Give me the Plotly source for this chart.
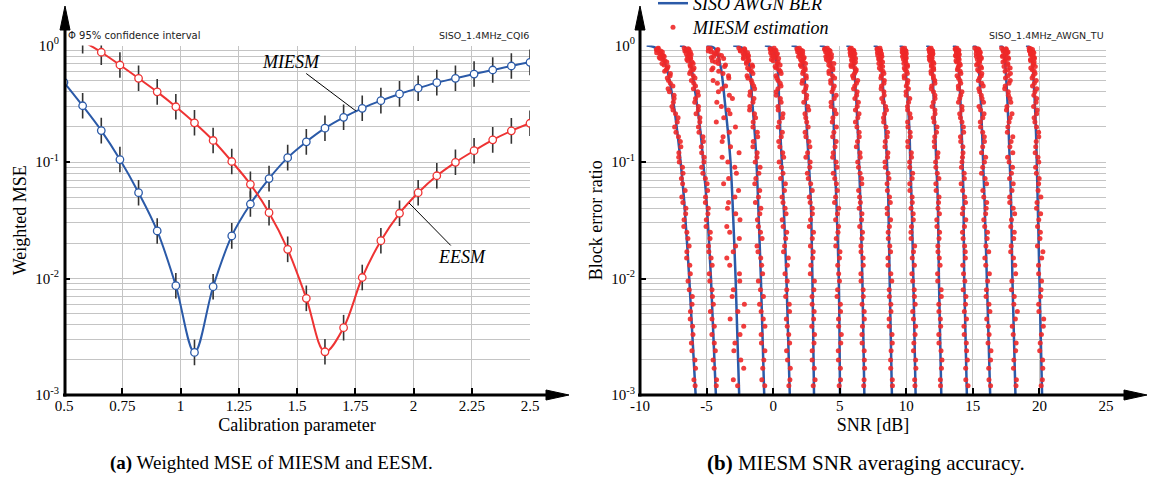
import plotly.graph_objects as go

W, H = 1149, 482

# ---------------- left panel data ----------------
calib = [0.5, 0.58, 0.66, 0.74, 0.82, 0.90, 0.98, 1.06, 1.14, 1.22, 1.30, 1.38, 1.46,
         1.54, 1.62, 1.70, 1.78, 1.86, 1.94, 2.02, 2.10, 2.18, 2.26, 2.34, 2.42, 2.50]
miesm_mse = [0.483, 0.304, 0.186, 0.105, 0.0545, 0.0256, 0.00867, 0.00232, 0.0085, 0.0232,
             0.0436, 0.072, 0.109, 0.149, 0.195, 0.242, 0.289, 0.336, 0.384, 0.43,
             0.48, 0.523, 0.569, 0.616, 0.667, 0.717]
eesm_mse = [1.45, 1.1, 0.875, 0.68, 0.523, 0.40, 0.298, 0.217, 0.153, 0.101,
            0.0643, 0.0367, 0.0178, 0.00676, 0.00235, 0.00378, 0.0102, 0.0211, 0.0363, 0.0545,
            0.0762, 0.0994, 0.125, 0.155, 0.185, 0.215]
ci_decades = 0.11  # half width of the 95% confidence interval (log10 units)

calib_ticks = [0.5, 0.75, 1, 1.25, 1.5, 1.75, 2, 2.25, 2.5]
calib_ticktext = ["0.5", "0.75", "1", "1.25", "1.5", "1.75", "2", "2.25", "2.5"]

# ---------------- right panel data ----------------
snr_ticks = [-10, -5, 0, 5, 10, 15, 20, 25]
snr_ticktext = ["-10", "-5", "0", "5", "10", "15", "20", "25"]

curve_bler = [1.0, 0.98, 0.92, 0.64, 0.33, 0.17, 0.1, 0.046, 0.01, 0.001]
awgn_snr = [
    [-9.5, -9.05, -8.6, -8.0, -7.5, -7.17, -6.95, -6.68, -6.3, -5.82],
    [-7.0, -6.7, -6.45, -6.13, -5.75, -5.43, -5.25, -5.0, -4.67, -4.3],
    [-5.0, -4.6, -4.3, -3.92, -3.63, -3.37, -3.2, -3.05, -2.82, -2.55],
    [-3.0, -2.55, -2.2, -1.75, -1.57, -1.37, -1.25, -1.13, -0.92, -0.67],
    [-0.62, -0.25, 0.0, 0.33, 0.45, 0.55, 0.65, 0.78, 1.0, 1.25],
    [1.38, 1.75, 2.0, 2.3, 2.45, 2.55, 2.68, 2.83, 2.95, 3.07],
    [3.5, 3.85, 4.1, 4.38, 4.5, 4.57, 4.63, 4.75, 4.93, 5.02],
    [5.5, 5.75, 5.9, 6.08, 6.25, 6.37, 6.45, 6.55, 6.7, 6.85],
    [7.55, 7.8, 7.95, 8.13, 8.33, 8.45, 8.55, 8.65, 8.75, 8.92],
    [9.5, 9.7, 9.82, 9.95, 10.12, 10.25, 10.3, 10.4, 10.53, 10.7],
    [11.5, 11.7, 11.82, 11.95, 12.07, 12.18, 12.25, 12.37, 12.45, 12.63],
    [13.5, 13.7, 13.8, 13.93, 14.07, 14.17, 14.23, 14.3, 14.35, 14.55],
    [15.0, 15.2, 15.32, 15.45, 15.6, 15.7, 15.77, 15.88, 16.05, 16.3],
    [17.0, 17.2, 17.32, 17.45, 17.6, 17.7, 17.77, 17.87, 17.97, 18.2],
    [19.0, 19.2, 19.35, 19.5, 19.65, 19.75, 19.8, 19.87, 20.0, 20.2],
]

bler_grid_a = [0.94, 0.91, 0.88, 0.85, 0.82, 0.79, 0.76, 0.72, 0.68, 0.64, 0.6, 0.55, 0.5,
               0.45, 0.4, 0.35, 0.3, 0.26, 0.22, 0.18, 0.15, 0.12, 0.1, 0.08, 0.065, 0.05,
               0.04, 0.032, 0.025, 0.019, 0.015, 0.011, 0.008, 0.006, 0.0045, 0.0033,
               0.0024, 0.0017, 0.0012]
bler_grid_b = [0.95, 0.925, 0.895, 0.865, 0.835, 0.805, 0.775, 0.74, 0.7, 0.66, 0.62, 0.575,
               0.525, 0.475, 0.425, 0.375, 0.325, 0.28, 0.24, 0.2, 0.165, 0.135, 0.11, 0.09,
               0.072, 0.057, 0.045, 0.036, 0.028, 0.022, 0.017, 0.013, 0.0095, 0.007,
               0.0052, 0.0039, 0.0028, 0.002, 0.00135]

# MIESM estimates, set 1 (odd curves on grid A, even curves on grid B)
est_snr_1 = [
    [-8.65, -8.73, -8.32, -8.52, -8.26, -8.55, -8.28, -7.99, -8.20, -7.95, -8.15, -7.74, -7.86,
     -7.53, -7.79, -7.44, -7.60, -7.33, -7.20, -7.30, -6.97, -7.08, -7.05, -6.77, -6.80, -6.86,
     -6.55, -6.69, -6.48, -6.31, -6.50, -6.22, -6.30, -6.09, -6.23, -6.02, -6.10, -5.83, -5.86],
    [-6.68, -6.32, -6.63, -6.35, -6.16, -6.43, -6.20, -6.41, -6.01, -6.21, -6.01, -6.27, -5.87,
     -5.96, -5.99, -5.62, -5.89, -5.62, -5.50, -5.61, -5.27, -5.40, -5.18, -5.37, -5.09, -4.92,
     -5.09, -4.90, -5.04, -4.74, -4.83, -4.58, -4.76, -4.56, -4.71, -4.42, -4.42, -4.51, -4.25],
    [-4.70, -4.19, -4.65, -4.32, -3.88, -4.64, -4.10, -4.34, -3.58, -4.52, -4.09, -3.35, -4.51,
     -3.57, -4.11, -3.06, -3.89, -3.24, -4.27, -3.29, -3.83, -2.56, -3.40, -2.76, -3.72, -2.87,
     -3.43, -2.49, -3.26, -2.82, -3.48, -2.53, -2.99, -2.16, -3.23, -2.49, -2.95, -2.21, -2.67],
    [-2.58, -2.13, -2.47, -1.92, -2.18, -1.88, -2.24, -1.83, -2.01, -1.54, -1.79, -1.52, -1.90,
     -1.57, -1.39, -1.75, -1.52, -1.77, -1.32, -1.52, -1.16, -1.52, -1.22, -0.98, -1.30, -1.01,
     -1.33, -1.00, -1.11, -0.83, -1.14, -0.86, -1.11, -0.73, -0.90, -0.62, -0.88, -0.70, -0.85],
    [-0.23, 0.21, -0.06, 0.32, -0.10, 0.19, -0.13, 0.37, 0.52, 0.23, 0.54, 0.21, 0.37,
     0.59, 0.22, 0.54, 0.36, 0.74, 0.46, 0.69, 0.42, 0.72, 0.45, 0.74, 0.92, 0.67,
     0.90, 0.68, 1.02, 0.86, 1.14, 0.89, 1.02, 1.21, 0.99, 1.17, 1.01, 1.29, 1.18],
    [1.97, 1.83, 2.22, 1.95, 2.13, 1.91, 2.29, 2.13, 2.43, 2.12, 2.41, 2.22, 2.49,
     2.17, 2.44, 2.52, 2.30, 2.67, 2.45, 2.63, 2.46, 2.76, 2.46, 2.75, 2.64, 2.94,
     2.78, 2.95, 2.72, 2.94, 3.01, 2.83, 3.10, 2.92, 3.08, 2.90, 3.07, 2.93, 3.15],
    [3.87, 4.21, 3.94, 4.21, 4.09, 4.37, 4.00, 4.29, 4.18, 4.48, 4.19, 4.46, 4.32,
     4.59, 4.42, 4.59, 4.36, 4.73, 4.44, 4.56, 4.73, 4.51, 4.73, 4.51, 4.75, 4.69,
     4.92, 4.69, 4.87, 4.70, 4.98, 4.92, 4.84, 5.05, 4.91, 5.12, 4.89, 5.05, 4.96],
    [5.87, 5.79, 6.06, 5.78, 6.05, 5.92, 6.19, 5.91, 6.09, 5.86, 6.24, 6.11, 6.03,
     6.26, 6.04, 6.27, 6.40, 6.18, 6.36, 6.29, 6.47, 6.25, 6.54, 6.41, 6.64, 6.42,
     6.55, 6.67, 6.50, 6.67, 6.60, 6.77, 6.60, 6.77, 6.84, 6.71, 6.68, 6.85, 6.83],
    [7.80, 8.06, 7.92, 8.14, 7.86, 8.08, 7.94, 8.22, 8.10, 7.98, 8.25, 8.13, 8.35,
     8.14, 8.32, 8.16, 8.45, 8.37, 8.30, 8.59, 8.42, 8.62, 8.40, 8.63, 8.56, 8.74,
     8.56, 8.82, 8.64, 8.76, 8.62, 8.84, 8.72, 8.84, 8.71, 8.93, 8.86, 8.83, 8.96],
    [9.86, 9.76, 9.98, 9.74, 9.91, 9.72, 9.98, 9.90, 9.82, 10.09, 9.91, 10.08, 9.85,
     10.08, 10.16, 9.99, 10.17, 10.10, 10.33, 10.12, 10.30, 10.12, 10.39, 10.26, 10.44, 10.27,
     10.45, 10.52, 10.39, 10.36, 10.54, 10.61, 10.48, 10.61, 10.48, 10.70, 10.57, 10.70, 10.63],
    [11.73, 11.92, 11.74, 12.00, 11.81, 11.92, 11.74, 12.01, 11.88, 12.05, 11.86, 12.03, 12.14,
     11.91, 12.04, 12.16, 11.94, 12.16, 12.09, 12.27, 12.10, 12.38, 12.20, 12.33, 12.22, 12.46,
     12.38, 12.29, 12.50, 12.37, 12.48, 12.35, 12.62, 12.44, 12.56, 12.44, 12.61, 12.64, 12.57],
    [13.80, 13.69, 13.91, 13.77, 13.98, 13.75, 13.91, 13.73, 14.00, 13.92, 13.84, 14.10, 13.92,
     14.09, 13.92, 14.09, 13.92, 14.19, 14.07, 14.29, 14.07, 14.25, 14.22, 14.14, 14.36, 14.23,
     14.45, 14.21, 14.37, 14.27, 14.43, 14.24, 14.40, 14.48, 14.36, 14.33, 14.51, 14.59, 14.47],
    [15.38, 15.27, 15.54, 15.25, 15.51, 15.62, 15.34, 15.51, 15.28, 15.65, 15.46, 15.63, 15.41,
     15.78, 15.51, 15.69, 15.46, 15.84, 15.56, 15.74, 15.87, 15.65, 15.87, 15.65, 16.03, 15.82,
     16.00, 15.82, 16.10, 15.98, 15.90, 16.24, 16.02, 16.21, 16.04, 16.22, 16.36, 16.19, 16.33],
    [17.16, 17.51, 17.28, 17.59, 17.45, 17.22, 17.68, 17.40, 17.62, 17.34, 17.61, 17.82, 17.45,
     17.72, 17.39, 17.67, 17.85, 17.52, 17.80, 17.63, 18.00, 17.78, 17.61, 17.98, 17.76, 17.94,
     17.77, 18.14, 17.85, 18.07, 17.84, 18.15, 17.93, 18.11, 18.34, 17.96, 18.25, 18.08, 18.27],
    [19.35, 19.25, 19.52, 19.33, 19.50, 19.61, 19.33, 19.60, 19.52, 19.35, 19.61, 19.53, 19.76,
     19.48, 19.66, 19.79, 19.56, 19.79, 19.66, 19.94, 19.76, 19.68, 19.95, 19.77, 19.94, 20.11,
     19.78, 19.95, 20.07, 19.85, 20.17, 19.94, 20.12, 19.94, 20.32, 20.15, 20.02, 20.25, 20.13],
]

# MIESM estimates, set 2 (odd curves on grid B, even curves on grid A)
est_snr_2 = [
    [-8.63, -8.77, -8.45, -8.75, -8.39, -8.18, -8.47, -8.14, -8.35, -7.90, -8.03, -7.72, -7.95,
     -7.72, -7.89, -7.44, -7.50, -7.52, -7.14, -7.40, -7.11, -6.93, -7.09, -6.81, -6.89, -6.61,
     -6.78, -6.57, -6.71, -6.40, -6.48, -6.26, -6.39, -6.07, -6.21, -6.05, -6.14, -5.87, -5.95],
    [-6.38, -6.55, -6.22, -6.53, -6.30, -6.22, -6.48, -6.09, -6.24, -5.94, -6.19, -6.00, -6.14,
     -5.83, -5.66, -5.83, -5.61, -5.79, -5.51, -5.57, -5.24, -5.37, -5.20, -5.28, -4.96, -5.08,
     -4.87, -5.02, -4.72, -4.86, -4.66, -4.80, -4.59, -4.49, -4.59, -4.60, -4.34, -4.43, -4.27],
    [-4.86, -4.15, -4.87, -4.44, -4.10, -4.46, -3.72, -4.57, -4.11, -3.65, -4.61, -3.77, -3.33,
     -4.19, -3.84, -3.29, -4.23, -3.37, -3.71, -2.83, -3.76, -3.20, -3.83, -2.88, -3.34, -2.60,
     -3.35, -2.81, -3.48, -2.54, -3.00, -3.26, -2.51, -3.08, -2.65, -2.21, -2.87, -2.43, -2.99],
    [-2.16, -2.45, -2.10, -2.25, -1.86, -2.21, -1.86, -2.00, -1.58, -1.92, -1.63, -1.96, -1.64,
     -1.46, -1.72, -1.44, -1.75, -1.40, -1.50, -1.19, -1.49, -1.20, -1.35, -1.07, -1.38, -1.10,
     -0.92, -1.18, -0.95, -1.21, -0.93, -0.79, -0.95, -1.02, -0.74, -0.90, -0.62, -0.78, -0.63],
    [0.07, -0.19, 0.13, -0.19, 0.24, 0.02, 0.41, 0.00, 0.30, 0.15, 0.44, 0.60, 0.27,
     0.53, 0.36, 0.23, 0.60, 0.38, 0.70, 0.38, 0.61, 0.50, 0.79, 0.62, 0.56, 0.85,
     0.74, 0.97, 0.75, 0.94, 0.78, 1.07, 1.06, 0.94, 1.23, 1.06, 1.24, 1.08, 1.26],
    [1.78, 2.10, 1.84, 2.22, 2.05, 2.33, 2.06, 2.26, 2.05, 2.39, 2.27, 2.48, 2.21,
     2.48, 2.31, 2.49, 2.61, 2.39, 2.52, 2.40, 2.69, 2.59, 2.78, 2.57, 2.82, 2.71,
     2.94, 2.81, 3.03, 2.80, 2.97, 2.79, 3.06, 2.93, 3.04, 3.11, 2.93, 3.09, 3.01],
    [4.07, 3.87, 4.28, 4.05, 4.38, 3.96, 4.29, 4.12, 4.56, 4.31, 4.49, 4.20, 4.62,
     4.33, 4.51, 4.73, 4.35, 4.62, 4.49, 4.75, 4.47, 4.65, 4.47, 4.80, 4.63, 4.82,
     4.61, 4.83, 4.91, 4.74, 5.02, 4.85, 4.98, 4.80, 5.06, 4.92, 5.08, 4.90, 5.06],
    [5.76, 6.05, 5.87, 6.14, 5.81, 6.08, 5.90, 6.18, 5.85, 6.13, 6.20, 5.97, 6.35,
     6.13, 6.31, 6.14, 6.32, 6.45, 6.18, 6.46, 6.34, 6.52, 6.35, 6.53, 6.66, 6.49,
     6.46, 6.64, 6.71, 6.59, 6.76, 6.59, 6.76, 6.68, 6.85, 6.67, 6.84, 6.87, 6.80],
    [8.02, 7.83, 8.07, 7.83, 8.05, 8.17, 7.94, 8.11, 7.94, 8.22, 8.09, 8.32, 8.09,
     8.32, 8.11, 8.34, 8.28, 8.51, 8.29, 8.47, 8.56, 8.40, 8.59, 8.42, 8.70, 8.58,
     8.80, 8.57, 8.73, 8.65, 8.82, 8.63, 8.91, 8.73, 8.85, 8.72, 8.95, 8.82, 8.95],
    [9.69, 9.92, 9.69, 10.00, 9.82, 9.98, 9.79, 9.96, 10.08, 9.85, 10.02, 9.84, 10.12,
     10.00, 9.98, 10.26, 10.09, 10.27, 10.10, 10.29, 10.11, 10.38, 10.25, 10.48, 10.26, 10.44,
     10.36, 10.53, 10.35, 10.63, 10.45, 10.42, 10.60, 10.67, 10.54, 10.66, 10.54, 10.72, 10.65],
    [11.86, 11.70, 11.98, 11.80, 11.96, 11.72, 11.93, 11.80, 12.07, 11.89, 12.06, 11.87, 12.04,
     12.15, 11.88, 12.15, 12.03, 12.15, 12.03, 12.31, 12.14, 12.12, 12.34, 12.22, 12.45, 12.24,
     12.42, 12.49, 12.30, 12.46, 12.38, 12.54, 12.36, 12.63, 12.45, 12.58, 12.45, 12.68, 12.56],
    [13.67, 13.95, 13.77, 13.93, 13.69, 13.91, 13.97, 13.79, 14.06, 13.88, 14.05, 13.81, 14.03,
     13.91, 14.18, 14.01, 14.18, 14.01, 14.18, 14.31, 14.09, 14.26, 14.18, 14.35, 14.12, 14.39,
     14.26, 14.47, 14.22, 14.38, 14.44, 14.30, 14.27, 14.45, 14.52, 14.35, 14.53, 14.46, 14.64],
    [15.16, 15.45, 15.28, 15.55, 15.41, 15.27, 15.63, 15.50, 15.37, 15.59, 15.36, 15.67, 15.50,
     15.67, 15.45, 15.63, 15.80, 15.58, 15.75, 15.58, 15.86, 15.74, 15.96, 15.74, 15.92, 15.75,
     16.04, 15.96, 15.89, 16.07, 16.19, 15.97, 16.11, 15.99, 16.28, 16.16, 16.14, 16.33, 16.21],
    [17.49, 17.27, 17.64, 17.45, 17.26, 17.63, 17.44, 17.26, 17.63, 17.80, 17.42, 17.64, 17.81,
     17.43, 17.66, 17.79, 17.56, 17.94, 17.72, 17.59, 17.87, 18.00, 17.72, 17.90, 18.03, 17.76,
     18.03, 17.90, 18.11, 17.88, 18.05, 18.22, 17.90, 18.08, 18.20, 18.03, 18.22, 18.05, 18.24],
    [19.22, 19.48, 19.26, 19.58, 19.34, 19.51, 19.62, 19.34, 19.56, 19.69, 19.46, 19.67, 19.45,
     19.62, 19.80, 19.58, 19.75, 19.83, 19.60, 19.78, 19.95, 19.72, 19.89, 19.71, 19.98, 19.90,
     19.82, 20.09, 19.86, 20.04, 20.26, 19.93, 20.16, 20.08, 19.96, 20.29, 20.06, 20.24, 20.22],
]

log_ticks = [1e-3, 1e-2, 1e-1, 1]
log_ticktext = ["10<sup>-3</sup>", "10<sup>-2</sup>", "10<sup>-1</sup>", "10<sup>0</sup>"]
minor_vals = [m * 10 ** e for e in (-3, -2, -1) for m in range(2, 10)]

# ---------------- styles ----------------
BLUE = "#2b5aa8"
RED = "#ee3333"
GRID = "#c4c4c4"
SERIF = "Liberation Serif"
SANS = "DejaVu Sans"


def px(xp):
    return xp / W


def py(yp):
    return 1 - yp / H


fig = go.Figure()


def ci(vals):
    up = [v * (10 ** ci_decades - 1) for v in vals]
    dn = [v * (1 - 10 ** (-ci_decades)) for v in vals]
    return dict(type="data", symmetric=False, array=up, arrayminus=dn,
                color="#333333", thickness=1.6, width=0)


for vals, col in ((miesm_mse, BLUE), (eesm_mse, RED)):
    fig.add_trace(go.Scatter(
        x=calib, y=vals, mode="lines+markers", xaxis="x", yaxis="y",
        line=dict(color=col, width=2, shape="spline", smoothing=1.0),
        marker=dict(symbol="circle", size=7.5, color="white", line=dict(color=col, width=1.3)),
        error_y=ci(vals), showlegend=False, hoverinfo="skip"))

# right panel: AWGN curves (one trace, gaps between curves)
bx, by = [], []
for snrs in awgn_snr:
    bx += snrs + [None]
    by += curve_bler + [None]
fig.add_trace(go.Scatter(
    x=bx, y=by, mode="lines", xaxis="x2", yaxis="y2", name="SISO AWGN BER",
    line=dict(color=BLUE, width=2.5, shape="spline", smoothing=0.8),
    connectgaps=False, hoverinfo="skip", legend="legend"))

sx, sy = [], []
for i in range(len(awgn_snr)):
    g1, g2 = (bler_grid_a, bler_grid_b) if i % 2 == 0 else (bler_grid_b, bler_grid_a)
    for s, b in zip(est_snr_1[i], g1):
        sx.append(s)
        sy.append(b)
    for s, b in zip(est_snr_2[i], g2):
        sx.append(s)
        sy.append(b)
fig.add_trace(go.Scatter(
    x=sx, y=sy, mode="markers", xaxis="x2", yaxis="y2", name="MIESM estimation",
    marker=dict(color="rgba(238,40,40,0.9)", size=5, line=dict(width=0)),
    hoverinfo="skip", legend="legend2"))

tickfont = dict(family=SERIF, size=15, color="black")
titlefont = dict(family=SERIF, size=18, color="black")
common_x = dict(showgrid=True, gridcolor=GRID, gridwidth=1, zeroline=False, showline=False,
                ticks="inside", ticklen=7, tickwidth=2, tickcolor="black",
                tickfont=tickfont, fixedrange=True)
common_y = dict(type="log", range=[-3, 0], showgrid=True, gridcolor=GRID, gridwidth=1,
                zeroline=False, showline=False, ticks="inside", ticklen=6, tickwidth=2,
                tickcolor="black", tickfont=tickfont, tickvals=log_ticks,
                ticktext=log_ticktext, ticklabelstandoff=4,
                minor=dict(tickvals=minor_vals, showgrid=True, gridcolor=GRID, gridwidth=1,
                           ticks=""),
                domain=[py(395), py(45.5)], fixedrange=True)

legend_common = dict(xanchor="left", yanchor="top", bgcolor="rgba(0,0,0,0)", borderwidth=0,
                     font=dict(family=SERIF, size=18, color="black", style="italic"),
                     itemsizing="trace")

fig.update_layout(
    width=W, height=H,
    margin=dict(l=0, r=0, t=0, b=0, autoexpand=False),
    paper_bgcolor="white", plot_bgcolor="white",
    hovermode=False,
    xaxis=dict(common_x, domain=[px(64), px(530)], range=[0.5, 2.5], tickvals=calib_ticks,
               ticktext=calib_ticktext, anchor="y",
               title=dict(text="Calibration parameter", font=titlefont, standoff=5)),
    yaxis=dict(common_y, anchor="x",
               title=dict(text="Weighted MSE", font=titlefont, standoff=3)),
    xaxis2=dict(common_x, domain=[px(640), px(1106)], range=[-10, 25], tickvals=snr_ticks,
                ticktext=snr_ticktext, anchor="y2",
                title=dict(text="SNR [dB]", font=titlefont, standoff=5)),
    yaxis2=dict(common_y, anchor="x2",
                title=dict(text="Block error ratio", font=titlefont, standoff=3)),
    legend=dict(legend_common, x=px(653), y=py(-15)),
    legend2=dict(legend_common, x=px(653), y=py(9)),
)

# axes with arrow heads
shapes = []
for x0, x1, tip in ((63, 548, 569), (638, 1126, 1147)):
    shapes.append(dict(type="line", xref="paper", yref="paper", x0=px(x0), x1=px(x1),
                       y0=py(395), y1=py(395), line=dict(color="black", width=3)))
    shapes.append(dict(type="path", xref="paper", yref="paper",
                       path=f"M{px(tip)},{py(395)} L{px(tip-23)},{py(390)} L{px(tip-23)},{py(400)} Z",
                       fillcolor="black", line=dict(color="black", width=1)))
for xa in (65, 640):
    shapes.append(dict(type="line", xref="paper", yref="paper", x0=px(xa), x1=px(xa),
                       y0=py(396.5), y1=py(28), line=dict(color="black", width=3)))
    shapes.append(dict(type="path", xref="paper", yref="paper",
                       path=f"M{px(xa)},{py(6)} L{px(xa-5)},{py(30)} L{px(xa+5)},{py(30)} Z",
                       fillcolor="black", line=dict(color="black", width=1)))
fig.update_layout(shapes=shapes)

ann = [
    dict(text="\u03a6 95% confidence interval", x=px(66), y=py(36), xref="paper", yref="paper",
         xanchor="left", yanchor="middle", showarrow=False,
         font=dict(family=SANS, size=10, color="#222222")),
    dict(text="SISO_1.4MHz_CQI6", x=px(531), y=py(36), xref="paper", yref="paper",
         xanchor="right", yanchor="middle", showarrow=False,
         font=dict(family=SANS, size=9.5, color="#222222")),
    dict(text="SISO_1.4MHz_AWGN_TU", x=px(1106), y=py(36), xref="paper", yref="paper",
         xanchor="right", yanchor="middle", showarrow=False,
         font=dict(family=SANS, size=9.5, color="#222222")),
    dict(text="<i>MIESM</i>", x=1.753, y=-0.562, xref="x", yref="y", ax=-65, ay=-49,
         showarrow=True, arrowhead=0, arrowwidth=1, arrowcolor="black", standoff=0,
         font=dict(family=SERIF, size=18, color="black")),
    dict(text="<i>EESM</i>", x=1.981, y=-1.352, xref="x", yref="y", ax=53, ay=54,
         showarrow=True, arrowhead=0, arrowwidth=1, arrowcolor="black", standoff=0,
         font=dict(family=SERIF, size=18, color="black")),
    dict(text="<b>(a)</b> Weighted MSE of MIESM and EESM.", x=px(271), y=py(463),
         xref="paper", yref="paper", xanchor="center", yanchor="middle", showarrow=False,
         font=dict(family=SERIF, size=19, color="black")),
    dict(text="<b>(b)</b> MIESM SNR averaging accuracy.", x=px(866), y=py(463),
         xref="paper", yref="paper", xanchor="center", yanchor="middle", showarrow=False,
         font=dict(family=SERIF, size=21, color="black")),
]
fig.update_layout(annotations=ann)

fig.write_html("out.html",
               config={"displayModeBar": False},
               post_script="document.body.style.margin='0px';"
                           "document.body.style.overflow='hidden';")
